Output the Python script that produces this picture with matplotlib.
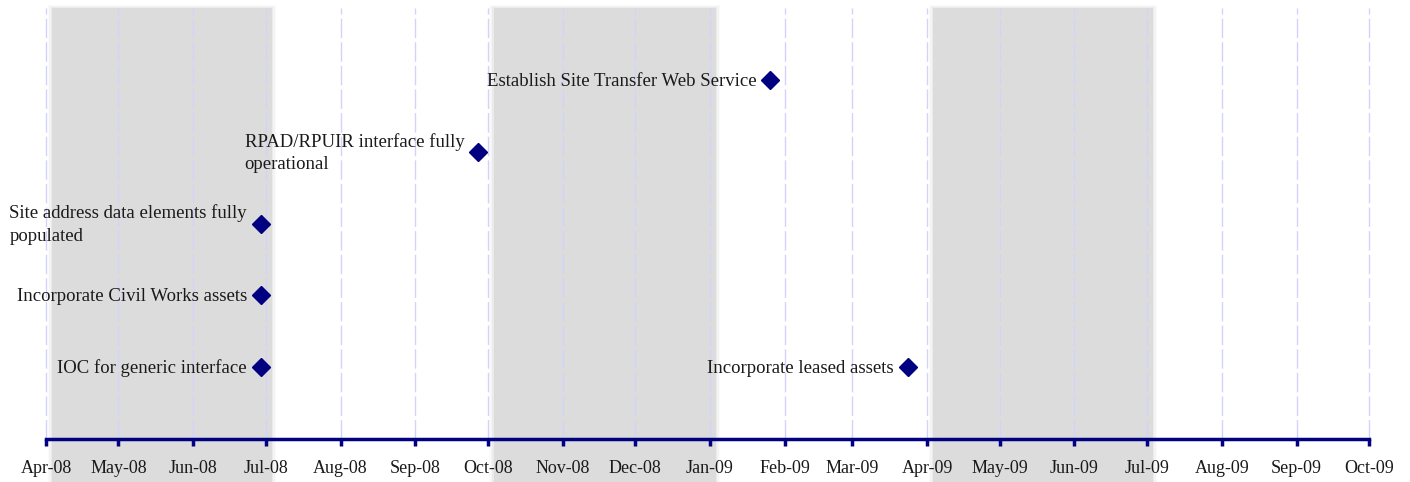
import datetime as dt

import matplotlib
matplotlib.use("Agg")
import matplotlib.pyplot as plt
import matplotlib.dates as mdates

# milestone data
labels = [
    "IOC for generic interface",
    "Incorporate Civil Works assets",
    "Site address data elements fully\npopulated",
    "RPAD/RPUIR interface fully\noperational",
    "Establish Site Transfer Web Service",
    "Incorporate leased assets",
]
dates = ["2008-06-29", "2008-06-29", "2008-06-29", "2008-09-27", "2009-01-26", "2009-03-24"]
levels = [1, 2, 3, 4, 5, 1]

# alternating shaded quarters
band_starts = ["2008-04-01", "2008-10-01", "2009-04-01"]
band_ends = ["2008-07-01", "2009-01-01", "2009-07-01"]

x_start = "2008-04-01"
x_end = "2009-10-01"

NAVY = "#000080"
GRID = "#d2d2fa"
BAND = "#dcdcdc"


def to_num(s):
    return mdates.date2num(dt.datetime.strptime(s, "%Y-%m-%d"))


plt.rcParams["font.family"] = ["Liberation Serif", "DejaVu Serif"]

fig = plt.figure(figsize=(14.1, 4.82), dpi=100)
ax = fig.add_axes([46 / 1410, 43 / 482, 1323 / 1410, 431 / 482])

ax.set_xlim(to_num(x_start), to_num(x_end))
ax.set_ylim(0, 6)

# shaded bands with a slight offset and soft edges
shift = 2.5
for s, e in zip(band_starts, band_ends):
    a, b = to_num(s) + shift, to_num(e) + shift
    for k, al in [(3.0, 0.12), (2.0, 0.2), (1.0, 0.35)]:
        ax.axvspan(a - k * 0.6, b + k * 0.6, ymin=-0.1, ymax=1.0 + k * 0.002,
                   color=BAND, alpha=al, lw=0, clip_on=False, zorder=0)
    ax.axvspan(a, b, ymin=-0.1, ymax=1.0, color=BAND, lw=0, clip_on=False, zorder=0)

ax.xaxis.set_major_locator(mdates.MonthLocator())
ax.xaxis.set_major_formatter(mdates.DateFormatter("%b-%y"))

# month gridlines, drawn unclipped so the edge ones show fully
for s in range(19):
    yr = 2008 + (3 + s) // 12
    mo = (3 + s) % 12 + 1
    ax.axvline(mdates.date2num(dt.datetime(yr, mo, 1)), color=GRID, lw=1,
               linestyle=(0, (14, 3)), zorder=1, clip_on=False)

xs = [to_num(d) for d in dates]
ax.plot(xs, levels, "D", color=NAVY, markersize=9, lw=0, zorder=5, clip_on=False)
for x, y, t in zip(xs, levels, labels):
    ax.annotate(t, (x, y), xytext=(-10, -1), textcoords="offset points",
                ha="right", va="center", multialignment="left",
                fontsize=13.5, color="#1a1a1a", linespacing=1.45)

for side in ["top", "left", "right"]:
    ax.spines[side].set_visible(False)
ax.spines["bottom"].set_color(NAVY)
ax.spines["bottom"].set_linewidth(2.5)
ax.spines["bottom"].set_zorder(6)
ax.tick_params(axis="x", direction="out", length=5, width=2.5, color=NAVY,
               labelsize=13, labelcolor="#1a1a1a", pad=10)
ax.set_yticks([])
ax.patch.set_alpha(0)

fig.savefig("out.png", dpi=100)
